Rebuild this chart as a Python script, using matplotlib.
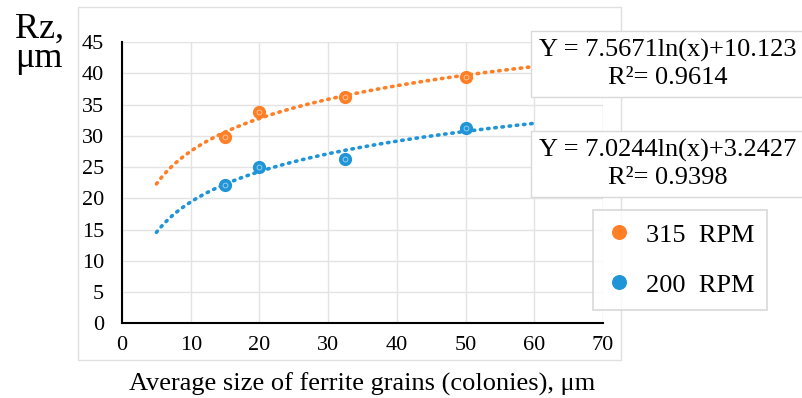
import numpy as np
import matplotlib
matplotlib.use("Agg")
import matplotlib.pyplot as plt
from matplotlib.patches import Rectangle

plt.rcParams['font.family'] = ['Liberation Serif', 'DejaVu Serif']

# data
grain_size = [15, 20, 32.5, 50]
rz_315 = [29.8, 33.8, 36.3, 39.5]
rz_200 = [22.1, 25.0, 26.3, 31.2]

# log trend coefficients shown on the chart: y = a*ln(x) + b
fit_315 = (7.5671, 10.123)
fit_200 = (7.0244, 3.2427)
r2_315 = 0.9614
r2_200 = 0.9398
trend_x = (5, 60)

orange = '#FF7F27'
blue = '#1F95D8'

fig = plt.figure(figsize=(8.03, 3.98), dpi=100)
ax = fig.add_axes([0.152, 0.188, 0.599, 0.706])

# light frame around the chart area, like the excel chart border
fig.patches.append(Rectangle((78 / 803, 1 - 360 / 398), (621 - 78) / 803, (360 - 7) / 398,
                             transform=fig.transFigure, fill=False, edgecolor='#e0e0e0', lw=1, zorder=0))

xs = np.linspace(trend_x[0], trend_x[1], 200)
for fit, col in [(fit_315, orange), (fit_200, blue)]:
    ax.plot(xs, fit[0] * np.log(xs) + fit[1], color=col, lw=2.6,
            linestyle=(0, (0.4, 1.6)), dash_capstyle='round', zorder=2)

for y, col, lab in [(rz_315, orange, '315  RPM'), (rz_200, blue, '200  RPM')]:
    ax.plot(grain_size, y, 'o', color=col, ms=8.5, zorder=3, label=lab)
    ax.plot(grain_size, y, 'o', mfc='none', mec='#ffffff', mew=0.6, ms=3.5, alpha=0.6, zorder=4)

ax.set_xlim(0, 70)
ax.set_ylim(0, 45)
ax.set_xticks(range(0, 71, 10))
ax.set_yticks(range(0, 46, 5))
ax.grid(True, color='#e3e3e3', lw=1)
ax.set_axisbelow(True)
for s in ['top', 'right']:
    ax.spines[s].set_visible(False)
for s in ['left', 'bottom']:
    ax.spines[s].set_linewidth(1.5)
ax.tick_params(length=0, labelsize=16)
ax.tick_params(axis='y', pad=13)
ax.tick_params(axis='x', pad=9)

ax.set_xlabel('Average size of ferrite grains (colonies), \u03bcm', fontsize=19, labelpad=13)
fig.text(15 / 803, 1 - 44 / 398, 'Rz,\n\u03bcm', fontsize=26, ha='left', va='center', linespacing=0.85)

box = dict(boxstyle='square,pad=0.3', fc='white', ec='#d9d9d9', lw=1)
fig.text(668 / 803, 1 - 64 / 398,
         'Y = %.4fln(x)+%.3f\nR\u00b2= %.4f' % (fit_315[0], fit_315[1], r2_315),
         fontsize=19, ha='center', va='center', linespacing=1.25, bbox=box)
fig.text(668 / 803, 1 - 164 / 398,
         'Y = %.4fln(x)+%.4f\nR\u00b2= %.4f' % (fit_200[0], fit_200[1], r2_200),
         fontsize=19, ha='center', va='center', linespacing=1.25, bbox=box)

leg = fig.legend(loc='upper left', bbox_to_anchor=(593 / 803, 1 - 210 / 398), fontsize=19,
                 frameon=True, fancybox=False, edgecolor='#d0d0d0', handletextpad=0.5,
                 borderpad=0.5, labelspacing=1.0, handlelength=1.0, markerscale=1.15,
                 borderaxespad=0)
leg.get_frame().set_linewidth(1.2)

fig.savefig('out.png', dpi=100)
